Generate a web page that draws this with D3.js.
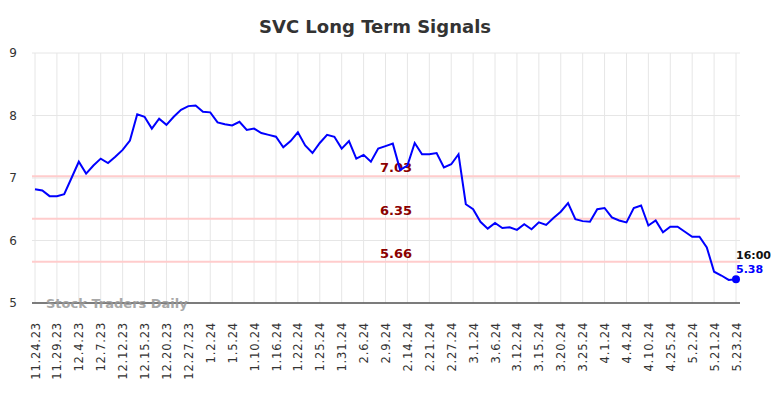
<!DOCTYPE html>
<html>
<head>
<meta charset="utf-8">
<script src="https://cdn.jsdelivr.net/npm/d3@7"></script>
<style>
  body { margin: 0; background: #fff; }
  text { font-family: "DejaVu Sans", sans-serif; }
</style>
</head>
<body>
<svg id="chart" width="784" height="398"></svg>
<script>
// closing prices, one per session shown on the chart
var prices = [6.82, 6.80, 6.71, 6.71, 6.74, 7.00, 7.26, 7.07, 7.20, 7.31,
  7.24, 7.34, 7.45, 7.60, 8.02, 7.98, 7.79, 7.95, 7.85, 7.98,
  8.09, 8.15, 8.16, 8.06, 8.05, 7.89, 7.86, 7.84, 7.90, 7.77,
  7.79, 7.72, 7.69, 7.66, 7.49, 7.59, 7.73, 7.52, 7.40, 7.56,
  7.69, 7.66, 7.47, 7.59, 7.31, 7.37, 7.26, 7.47, 7.51, 7.55,
  7.13, 7.20, 7.56, 7.38, 7.38, 7.40, 7.17, 7.22, 7.38, 6.58,
  6.50, 6.30, 6.19, 6.28, 6.20, 6.21, 6.17, 6.26, 6.18, 6.29,
  6.25, 6.36, 6.46, 6.60, 6.34, 6.31, 6.30, 6.50, 6.52, 6.37,
  6.32, 6.29, 6.52, 6.56, 6.24, 6.32, 6.13, 6.22, 6.22, 6.14,
  6.06, 6.06, 5.89, 5.50, 5.44, 5.37, 5.38];

// a date label sits on every third session
var dateLabels = ["11.24.23", "11.29.23", "12.4.23", "12.7.23", "12.12.23", "12.15.23",
  "12.20.23", "12.27.23", "1.2.24", "1.5.24", "1.10.24", "1.16.24", "1.22.24",
  "1.25.24", "1.31.24", "2.6.24", "2.9.24", "2.14.24", "2.21.24", "2.27.24",
  "3.1.24", "3.6.24", "3.12.24", "3.15.24", "3.20.24", "3.25.24", "4.1.24",
  "4.4.24", "4.10.24", "4.25.24", "5.2.24", "5.21.24", "5.23.24"];
var labelStep = 3;

var yTicks = [5, 6, 7, 8, 9];
var signals = [7.03, 6.35, 5.66];
var lastTime = "16:00";

var svg = d3.select("#chart");
var x = d3.scaleLinear().domain([0, prices.length - 1]).range([35, 736]);
var y = d3.scaleLinear().domain([5, 9]).range([303, 53]);
var left = 32, right = 740;

svg.append("text")
  .attr("x", 375)
  .attr("y", 33)
  .attr("text-anchor", "middle")
  .style("font-size", "18px")
  .style("font-weight", "bold")
  .style("fill", "#333")
  .text("SVC Long Term Signals");

// grid
var grid = svg.append("g");
grid.selectAll(".hgrid").data(yTicks).enter().append("line")
  .attr("x1", left).attr("x2", right)
  .attr("y1", function (d) { return y(d); })
  .attr("y2", function (d) { return y(d); })
  .style("stroke", "#e6e6e6")
  .style("stroke-width", 1);

grid.selectAll(".vgrid").data(dateLabels).enter().append("line")
  .attr("x1", function (d, i) { return x(i * labelStep); })
  .attr("x2", function (d, i) { return x(i * labelStep); })
  .attr("y1", y(9)).attr("y2", y(5))
  .style("stroke", "#e6e6e6")
  .style("stroke-width", 1);

// y axis labels
var yAxis = d3.axisLeft(y).tickValues(yTicks).tickFormat(d3.format("d")).tickSize(0).tickPadding(0);
svg.append("g")
  .attr("transform", "translate(17,0)")
  .call(yAxis)
  .call(function (g) { g.select(".domain").remove(); })
  .selectAll("text")
  .style("font-size", "12px")
  .style("fill", "#333")
  .style("font-family", "DejaVu Sans, sans-serif");

// x axis labels
var xAxis = d3.axisBottom(x)
  .tickValues(d3.range(0, prices.length, labelStep))
  .tickFormat(function (d) { return dateLabels[d / labelStep]; })
  .tickSize(0);
var xg = svg.append("g")
  .attr("transform", "translate(0," + y(5) + ")")
  .call(xAxis);
xg.select(".domain").remove();
xg.selectAll("text")
  .attr("transform", "rotate(-90)")
  .attr("x", -19)
  .attr("y", 0)
  .attr("dy", "0.35em")
  .attr("text-anchor", "end")
  .style("font-size", "11.5px")
  .style("letter-spacing", "0.8px")
  .style("fill", "#333")
  .style("font-family", "DejaVu Sans, sans-serif");

// signal lines
svg.selectAll(".signal").data(signals).enter().append("line")
  .attr("x1", left).attr("x2", right)
  .attr("y1", function (d) { return y(d); })
  .attr("y2", function (d) { return y(d); })
  .style("stroke", "#ffcccc")
  .style("stroke-width", 2);

svg.selectAll(".signalText").data(signals).enter().append("text")
  .attr("x", 396)
  .attr("y", function (d) { return y(d) - 4; })
  .attr("text-anchor", "middle")
  .style("font-size", "13px")
  .style("font-weight", "bold")
  .style("fill", "#8b0000")
  .text(function (d) { return d.toFixed(2); });

// bottom axis line
svg.append("line")
  .attr("x1", left).attr("x2", right)
  .attr("y1", y(5)).attr("y2", y(5))
  .style("stroke", "#555")
  .style("stroke-width", 1.5);

svg.append("text")
  .attr("x", 46)
  .attr("y", 308)
  .style("font-size", "13px")
  .style("font-weight", "bold")
  .style("fill", "#999")
  .style("opacity", 0.85)
  .text("Stock Traders Daily");

// price line
var line = d3.line()
  .x(function (d, i) { return x(i); })
  .y(function (d) { return y(d); });

svg.append("path")
  .datum(prices)
  .attr("d", line)
  .style("fill", "none")
  .style("stroke", "#0000ff")
  .style("stroke-width", 2);

var lastIdx = prices.length - 1;
svg.append("circle")
  .attr("cx", x(lastIdx))
  .attr("cy", y(prices[lastIdx]))
  .attr("r", 4)
  .style("fill", "#0000ff");

svg.append("text")
  .attr("x", x(lastIdx))
  .attr("y", y(prices[lastIdx]) - 20)
  .style("font-size", "11px")
  .style("font-weight", "bold")
  .style("fill", "#111")
  .text(lastTime);

svg.append("text")
  .attr("x", x(lastIdx))
  .attr("y", y(prices[lastIdx]) - 6)
  .style("font-size", "11px")
  .style("font-weight", "bold")
  .style("fill", "#0000ff")
  .text(prices[lastIdx].toFixed(2));
</script>
</body>
</html>
